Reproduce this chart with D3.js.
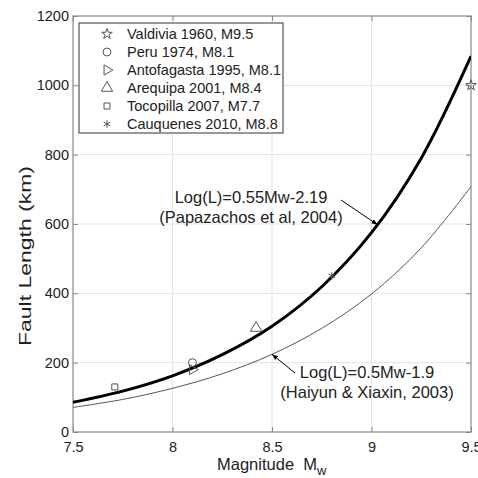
<!DOCTYPE html>
<html>
<head>
<meta charset="utf-8">
<script src="https://cdn.jsdelivr.net/npm/d3@7"></script>
<style>
  body { margin: 0; background: #fff; }
  svg { display: block; font-family: "Liberation Sans", Arial, sans-serif; }
  .tick text { font-size: 14.5px; fill: #222; }
</style>
</head>
<body>
<svg id="chart" width="478" height="478"></svg>
<script>
// curve samples (km)
const magnitudes = [7.5, 7.75, 8.0, 8.25, 8.5, 8.75, 9.0, 9.25, 9.5];
const papazachosLength = [86, 118, 162, 223, 305, 419, 575, 790, 1084];
const haiyunLength = [71, 94, 126, 168, 224, 299, 398, 531, 708];

// observed earthquakes
const eventNames = ['Valdivia 1960, M9.5', 'Peru 1974, M8.1', 'Antofagasta 1995, M8.1',
  'Arequipa 2001, M8.4', 'Tocopilla 2007, M7.7', 'Cauquenes 2010, M8.8'];
const eventMw = [9.5, 8.1, 8.1, 8.42, 7.71, 8.8];
const eventLength = [1000, 200, 180, 300, 130, 450];
const eventSymbols = ['star', 'circle', 'triangleRight', 'triangleUp', 'square', 'asterisk'];

const xTicks = [7.5, 8, 8.5, 9, 9.5];
const yTicks = [0, 200, 400, 600, 800, 1000, 1200];

const margin = { top: 16, right: 7, bottom: 46, left: 73 };
const width = 478 - margin.left - margin.right;
const height = 478 - margin.top - margin.bottom;

const svg = d3.select('#chart');
const chart = svg.append('g').attr('transform', `translate(${margin.left}, ${margin.top})`);

const x = d3.scaleLinear().domain([7.5, 9.5]).range([0, width]);
const y = d3.scaleLinear().domain([0, 1200]).range([height, 0]);

// grid
chart.append('g').selectAll('line').data(xTicks.slice(1, -1)).join('line')
  .attr('x1', d => x(d)).attr('x2', d => x(d)).attr('y1', 0).attr('y2', height)
  .attr('stroke', '#e3e3e3');
chart.append('g').selectAll('line').data(yTicks.slice(1, -1)).join('line')
  .attr('y1', d => y(d)).attr('y2', d => y(d)).attr('x1', 0).attr('x2', width)
  .attr('stroke', '#e3e3e3');

const styleAxis = g => {
  g.select('.domain').remove();
  g.selectAll('.tick line').attr('stroke', '#888');
};

chart.append('g').attr('transform', `translate(0, ${height})`)
  .call(d3.axisBottom(x).tickValues(xTicks).tickSize(-5).tickPadding(10).tickFormat(d3.format('')))
  .call(styleAxis);
chart.append('g')
  .call(d3.axisTop(x).tickValues(xTicks).tickSize(-5).tickFormat(''))
  .call(styleAxis);
chart.append('g')
  .call(d3.axisLeft(y).tickValues(yTicks).tickSize(-5).tickPadding(4).tickFormat(d3.format('d')))
  .call(styleAxis);
chart.append('g').attr('transform', `translate(${width}, 0)`)
  .call(d3.axisRight(y).tickValues(yTicks).tickSize(-5).tickFormat(''))
  .call(styleAxis);

chart.append('rect').attr('width', width).attr('height', height)
  .attr('fill', 'none').attr('stroke', '#888').attr('stroke-width', 1.2);

// curves
chart.append('clipPath').attr('id', 'clip').append('rect')
  .attr('width', width).attr('height', height);
const line = d3.line().x(d => x(d[0])).y(d => y(d[1])).curve(d3.curveCatmullRom);
chart.append('path').datum(d3.zip(magnitudes, haiyunLength))
  .attr('clip-path', 'url(#clip)').attr('fill', 'none')
  .attr('stroke', '#555').attr('stroke-width', 1).attr('d', line);
chart.append('path').datum(d3.zip(magnitudes, papazachosLength))
  .attr('clip-path', 'url(#clip)').attr('fill', 'none')
  .attr('stroke', '#000').attr('stroke-width', 3).attr('d', line);

// markers
const symbolPath = name => {
  const types = {
    star: [d3.symbolStar, 35], circle: [d3.symbolCircle, 50], triangleRight: [d3.symbolTriangle, 45],
    triangleUp: [d3.symbolTriangle, 55], square: [d3.symbolSquare, 36], asterisk: [d3.symbolAsterisk, 40],
  };
  const [type, size] = types[name];
  return d3.symbol(type, size)();
};
const drawMarker = (g, name) => {
  g.append('path').attr('d', symbolPath(name))
    .attr('transform', name === 'triangleRight' ? 'rotate(90)' : null)
    .attr('fill', 'none').attr('stroke', '#555').attr('stroke-width', 1);
};
eventNames.forEach((name, i) => {
  chart.append('g')
    .attr('transform', `translate(${x(eventMw[i])}, ${y(eventLength[i])})`)
    .call(g => drawMarker(g, eventSymbols[i]));
});

// legend
const legend = chart.append('g').attr('transform', 'translate(6, 7)');
legend.append('rect').attr('width', 204).attr('height', 110)
  .attr('fill', '#fff').attr('stroke', '#333').attr('stroke-width', 1);
eventNames.forEach((name, i) => {
  const row = legend.append('g').attr('transform', `translate(0, ${11 + i * 18})`);
  row.append('g').attr('transform', 'translate(28, 0)').call(g => drawMarker(g, eventSymbols[i]));
  row.append('text').attr('x', 48).attr('dy', '0.36em')
    .attr('font-size', 14.5).attr('fill', '#222').text(name);
});

// annotations
svg.append('defs').append('marker').attr('id', 'arrow')
  .attr('viewBox', '0 0 10 10').attr('refX', 10).attr('refY', 5)
  .attr('markerWidth', 6).attr('markerHeight', 6).attr('orient', 'auto')
  .append('path').attr('d', 'M0,1L10,5L0,9Z').attr('fill', '#000');

const annotate = (lines, tx, ty, from, to) => {
  const t = chart.append('text').attr('font-size', 16.5).attr('fill', '#222')
    .attr('text-anchor', 'middle');
  lines.forEach((s, i) => t.append('tspan').attr('x', tx).attr('y', ty + i * 20).text(s));
  chart.append('line').attr('x1', from[0]).attr('y1', from[1])
    .attr('x2', x(to[0])).attr('y2', y(to[1]))
    .attr('stroke', '#000').attr('stroke-width', 1).attr('marker-end', 'url(#arrow)');
};
annotate(['Log(L)=0.55Mw-2.19', '(Papazachos et al, 2004)'], 178, 187, [268, 184], [9.03, 598]);
annotate(['Log(L)=0.5Mw-1.9', '(Haiyun & Xiaxin, 2003)'], 294, 362, [222, 357], [8.5, 224]);

// axis titles
const xTitle = svg.append('text').attr('x', 217).attr('y', 470)
  .attr('font-size', 16.5).attr('fill', '#222').attr('xml:space', 'preserve');
xTitle.append('tspan').text('Magnitude\u00a0\u00a0M');
xTitle.append('tspan').attr('dy', 5).attr('font-size', 13).text('w');

svg.append('text').attr('transform', 'translate(31, 256) rotate(-90)')
  .attr('text-anchor', 'middle').attr('font-size', 16.5).attr('fill', '#222')
  .attr('textLength', 180).attr('lengthAdjust', 'spacingAndGlyphs')
  .text('Fault Length (km)');
</script>
</body>
</html>
